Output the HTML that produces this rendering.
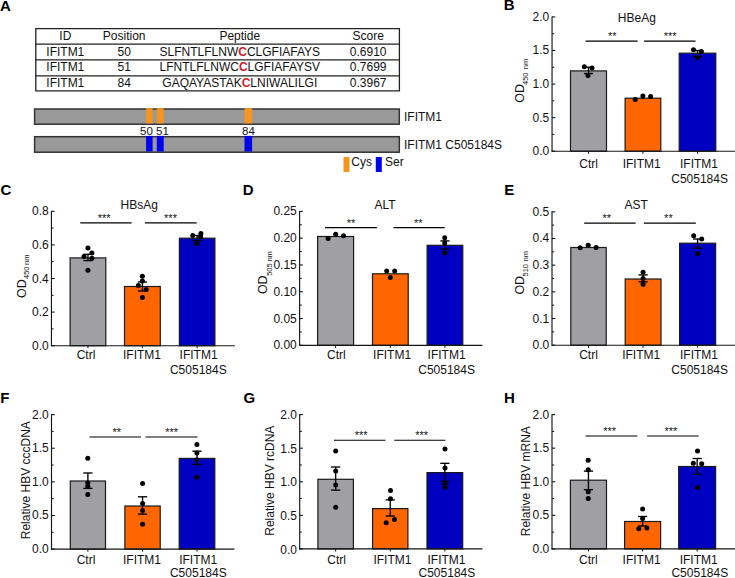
<!DOCTYPE html>
<html><head><meta charset="utf-8"><style>
html,body{margin:0;padding:0;background:#fff;width:735px;height:578px;overflow:hidden}
svg{display:block}
text{font-family:"Liberation Sans", sans-serif;stroke-width:0px}
</style></head><body>
<svg width="735" height="578" viewBox="0 0 735 578">
<rect width="735" height="578" fill="#fff"/>
<text x="0.00" y="10.60" font-size="15" text-anchor="start" font-weight="bold" fill="#000" stroke="#000" >A</text>
<text x="503.80" y="10.40" font-size="15" text-anchor="start" font-weight="bold" fill="#000" stroke="#000" >B</text>
<text x="0.50" y="194.60" font-size="15" text-anchor="start" font-weight="bold" fill="#000" stroke="#000" >C</text>
<text x="242.80" y="194.60" font-size="15" text-anchor="start" font-weight="bold" fill="#000" stroke="#000" >D</text>
<text x="504.20" y="194.60" font-size="15" text-anchor="start" font-weight="bold" fill="#000" stroke="#000" >E</text>
<text x="0.20" y="402.70" font-size="15" text-anchor="start" font-weight="bold" fill="#000" stroke="#000" >F</text>
<text x="243.40" y="402.70" font-size="15" text-anchor="start" font-weight="bold" fill="#000" stroke="#000" >G</text>
<text x="503.90" y="402.70" font-size="15" text-anchor="start" font-weight="bold" fill="#000" stroke="#000" >H</text>
<line x1="35.80" y1="28.70" x2="35.80" y2="90.80" stroke="#222" stroke-width="1.3"/>
<line x1="399.40" y1="28.70" x2="399.40" y2="90.80" stroke="#222" stroke-width="1.3"/>
<line x1="35.15" y1="28.70" x2="400.05" y2="28.70" stroke="#222" stroke-width="1.3"/>
<line x1="35.15" y1="44.20" x2="400.05" y2="44.20" stroke="#222" stroke-width="1.3"/>
<line x1="35.15" y1="59.90" x2="400.05" y2="59.90" stroke="#222" stroke-width="1.3"/>
<line x1="35.15" y1="75.80" x2="400.05" y2="75.80" stroke="#222" stroke-width="1.3"/>
<line x1="35.15" y1="90.80" x2="400.05" y2="90.80" stroke="#222" stroke-width="1.3"/>
<text x="65.30" y="40.10" font-size="12" text-anchor="middle" font-weight="normal" fill="#111" stroke="#111" >ID</text>
<text x="124.20" y="40.10" font-size="12" text-anchor="middle" font-weight="normal" fill="#111" stroke="#111" >Position</text>
<text x="239.80" y="40.10" font-size="12" text-anchor="middle" font-weight="normal" fill="#111" stroke="#111" >Peptide</text>
<text x="368.20" y="40.10" font-size="12" text-anchor="middle" font-weight="normal" fill="#111" stroke="#111" >Score</text>
<text x="65.30" y="55.70" font-size="12" text-anchor="middle" font-weight="normal" fill="#111" stroke="#111" >IFITM1</text>
<text x="124.20" y="55.70" font-size="12" text-anchor="middle" font-weight="normal" fill="#111" stroke="#111" >50</text>
<text x="368.20" y="55.70" font-size="12" text-anchor="middle" font-weight="normal" fill="#111" stroke="#111" >0.6910</text>
<text x="239.80" y="55.70" font-size="12" text-anchor="middle" fill="#111" stroke="#111">SLFNTLFLNW<tspan fill="#d0202a" stroke="#d0202a" font-weight="bold">C</tspan>CLGFIAFAYS</text>
<text x="65.30" y="71.40" font-size="12" text-anchor="middle" font-weight="normal" fill="#111" stroke="#111" >IFITM1</text>
<text x="124.20" y="71.40" font-size="12" text-anchor="middle" font-weight="normal" fill="#111" stroke="#111" >51</text>
<text x="368.20" y="71.40" font-size="12" text-anchor="middle" font-weight="normal" fill="#111" stroke="#111" >0.7699</text>
<text x="239.80" y="71.40" font-size="12" text-anchor="middle" fill="#111" stroke="#111">LFNTLFLNWC<tspan fill="#d0202a" stroke="#d0202a" font-weight="bold">C</tspan>LGFIAFAYSV</text>
<text x="65.30" y="87.10" font-size="12" text-anchor="middle" font-weight="normal" fill="#111" stroke="#111" >IFITM1</text>
<text x="124.20" y="87.10" font-size="12" text-anchor="middle" font-weight="normal" fill="#111" stroke="#111" >84</text>
<text x="368.20" y="87.10" font-size="12" text-anchor="middle" font-weight="normal" fill="#111" stroke="#111" >0.3967</text>
<text x="239.80" y="87.10" font-size="12" text-anchor="middle" fill="#111" stroke="#111">GAQAYASTAK<tspan fill="#d0202a" stroke="#d0202a" font-weight="bold">C</tspan>LNIWALILGI</text>
<rect x="34.60" y="109.00" width="364.70" height="15.20" fill="#999999" stroke="#333" stroke-width="1.5"/>
<rect x="34.60" y="136.70" width="364.70" height="15.50" fill="#999999" stroke="#333" stroke-width="1.5"/>
<rect x="146.1" y="108.2" width="6.50" height="15.2" fill="#f7941d"/>
<rect x="146.1" y="135.9" width="6.50" height="15.6" fill="#0000ee"/>
<rect x="156.8" y="108.2" width="6.90" height="15.2" fill="#f7941d"/>
<rect x="156.8" y="135.9" width="6.90" height="15.6" fill="#0000ee"/>
<rect x="244.5" y="108.2" width="7.60" height="15.2" fill="#f7941d"/>
<rect x="244.5" y="135.9" width="7.60" height="15.6" fill="#0000ee"/>
<text x="146.50" y="134.50" font-size="11.5" text-anchor="middle" font-weight="normal" fill="#111" stroke="#111" >50</text>
<text x="162.40" y="134.50" font-size="11.5" text-anchor="middle" font-weight="normal" fill="#111" stroke="#111" >51</text>
<text x="248.40" y="134.50" font-size="11.5" text-anchor="middle" font-weight="normal" fill="#111" stroke="#111" >84</text>
<text x="404.00" y="121.30" font-size="12" text-anchor="start" font-weight="normal" fill="#111" stroke="#111" >IFITM1</text>
<text x="404.00" y="149.00" font-size="12" text-anchor="start" font-weight="normal" fill="#111" stroke="#111" >IFITM1 C505184S</text>
<rect x="343.5" y="157" width="6" height="15" fill="#f7941d"/>
<text x="351.30" y="166.30" font-size="12" text-anchor="start" font-weight="normal" fill="#111" stroke="#111" >Cys</text>
<rect x="375.8" y="157" width="6" height="15" fill="#0000ee"/>
<text x="385.00" y="166.30" font-size="12" text-anchor="start" font-weight="normal" fill="#111" stroke="#111" >Ser</text>
<rect x="570.50" y="70.90" width="36.00" height="80.30" fill="#a0a0a4" stroke="#1a1a1a" stroke-width="1.2"/>
<rect x="625.10" y="98.20" width="35.70" height="53.00" fill="#ff6600" stroke="#1a1a1a" stroke-width="1.2"/>
<rect x="679.20" y="53.20" width="36.60" height="98.00" fill="#0000c0" stroke="#1a1a1a" stroke-width="1.2"/>
<line x1="588.50" y1="67.20" x2="588.50" y2="73.50" stroke="#000" stroke-width="1.35"/>
<line x1="583.90" y1="67.20" x2="593.10" y2="67.20" stroke="#000" stroke-width="1.35"/>
<line x1="583.90" y1="73.50" x2="593.10" y2="73.50" stroke="#000" stroke-width="1.35"/>
<line x1="697.50" y1="50.50" x2="697.50" y2="56.50" stroke="#000" stroke-width="1.35"/>
<line x1="692.90" y1="50.50" x2="702.10" y2="50.50" stroke="#000" stroke-width="1.35"/>
<line x1="692.90" y1="56.50" x2="702.10" y2="56.50" stroke="#000" stroke-width="1.35"/>
<circle cx="584.30" cy="66.70" r="2.5" fill="#000"/>
<circle cx="592.00" cy="68.10" r="2.5" fill="#000"/>
<circle cx="588.00" cy="75.40" r="2.5" fill="#000"/>
<circle cx="635.20" cy="99.60" r="2.5" fill="#000"/>
<circle cx="642.90" cy="96.10" r="2.5" fill="#000"/>
<circle cx="650.60" cy="96.50" r="2.5" fill="#000"/>
<circle cx="693.50" cy="49.80" r="2.5" fill="#000"/>
<circle cx="701.40" cy="51.60" r="2.5" fill="#000"/>
<circle cx="697.30" cy="57.40" r="2.5" fill="#000"/>
<line x1="552.05" y1="16.40" x2="552.05" y2="151.70" stroke="#151515" stroke-width="1.15"/>
<line x1="551.55" y1="151.20" x2="735.00" y2="151.20" stroke="#151515" stroke-width="1.15"/>
<line x1="552.05" y1="151.20" x2="555.25" y2="151.20" stroke="#151515" stroke-width="1.1"/>
<text x="549.25" y="155.20" font-size="12" text-anchor="end" font-weight="normal" fill="#111" stroke="#111" >0.0</text>
<line x1="552.05" y1="134.41" x2="554.25" y2="134.41" stroke="#151515" stroke-width="1.0"/>
<line x1="552.05" y1="117.62" x2="555.25" y2="117.62" stroke="#151515" stroke-width="1.1"/>
<text x="549.25" y="121.62" font-size="12" text-anchor="end" font-weight="normal" fill="#111" stroke="#111" >0.5</text>
<line x1="552.05" y1="100.84" x2="554.25" y2="100.84" stroke="#151515" stroke-width="1.0"/>
<line x1="552.05" y1="84.05" x2="555.25" y2="84.05" stroke="#151515" stroke-width="1.1"/>
<text x="549.25" y="88.05" font-size="12" text-anchor="end" font-weight="normal" fill="#111" stroke="#111" >1.0</text>
<line x1="552.05" y1="67.26" x2="554.25" y2="67.26" stroke="#151515" stroke-width="1.0"/>
<line x1="552.05" y1="50.47" x2="555.25" y2="50.47" stroke="#151515" stroke-width="1.1"/>
<text x="549.25" y="54.47" font-size="12" text-anchor="end" font-weight="normal" fill="#111" stroke="#111" >1.5</text>
<line x1="552.05" y1="33.69" x2="554.25" y2="33.69" stroke="#151515" stroke-width="1.0"/>
<line x1="552.05" y1="16.90" x2="555.25" y2="16.90" stroke="#151515" stroke-width="1.1"/>
<text x="549.25" y="20.90" font-size="12" text-anchor="end" font-weight="normal" fill="#111" stroke="#111" >2.0</text>
<line x1="588.50" y1="151.20" x2="588.50" y2="153.80" stroke="#151515" stroke-width="1.0"/>
<line x1="642.95" y1="151.20" x2="642.95" y2="153.80" stroke="#151515" stroke-width="1.0"/>
<line x1="697.50" y1="151.20" x2="697.50" y2="153.80" stroke="#151515" stroke-width="1.0"/>
<text x="588.60" y="168.10" font-size="12" text-anchor="middle" font-weight="normal" fill="#111" stroke="#111" >Ctrl</text>
<text x="641.70" y="168.10" font-size="12" text-anchor="middle" font-weight="normal" fill="#111" stroke="#111" >IFITM1</text>
<text x="699.00" y="168.10" font-size="12" text-anchor="middle" font-weight="normal" fill="#111" stroke="#111" >IFITM1</text>
<text x="699.60" y="183.10" font-size="12" text-anchor="middle" font-weight="normal" fill="#111" stroke="#111" >C505184S</text>
<line x1="585.50" y1="41.10" x2="637.60" y2="41.10" stroke="#000" stroke-width="1.15"/>
<text x="612.25" y="39.80" font-size="11" text-anchor="middle" font-weight="normal" fill="#111" stroke="#111" >**</text>
<line x1="644.10" y1="41.10" x2="695.50" y2="41.10" stroke="#000" stroke-width="1.15"/>
<text x="670.20" y="39.80" font-size="11" text-anchor="middle" font-weight="normal" fill="#111" stroke="#111" >***</text>
<text x="636.80" y="21.70" font-size="12" text-anchor="middle" font-weight="normal" fill="#111" stroke="#111" >HBeAg</text>
<text transform="translate(524.30,102.80) rotate(-90)" font-size="12.5" text-anchor="start" fill="#111" stroke="#111">OD</text>
<text transform="translate(527.80,85.00) rotate(-90)" font-size="7.5" text-anchor="start" fill="#111" stroke="#111" stroke-width="0.08">450</text>
<text transform="translate(527.80,69.20) rotate(-90)" font-size="7.5" text-anchor="start" fill="#111" stroke="#111" stroke-width="0.08">nm</text>
<rect x="70.10" y="257.90" width="35.70" height="87.80" fill="#a0a0a4" stroke="#1a1a1a" stroke-width="1.2"/>
<rect x="124.50" y="286.50" width="35.80" height="59.20" fill="#ff6600" stroke="#1a1a1a" stroke-width="1.2"/>
<rect x="179.40" y="238.20" width="35.50" height="107.50" fill="#0000c0" stroke="#1a1a1a" stroke-width="1.2"/>
<line x1="87.95" y1="254.30" x2="87.95" y2="260.60" stroke="#000" stroke-width="1.35"/>
<line x1="83.35" y1="254.30" x2="92.55" y2="254.30" stroke="#000" stroke-width="1.35"/>
<line x1="83.35" y1="260.60" x2="92.55" y2="260.60" stroke="#000" stroke-width="1.35"/>
<line x1="142.40" y1="282.00" x2="142.40" y2="291.00" stroke="#000" stroke-width="1.35"/>
<line x1="137.80" y1="282.00" x2="147.00" y2="282.00" stroke="#000" stroke-width="1.35"/>
<line x1="137.80" y1="291.00" x2="147.00" y2="291.00" stroke="#000" stroke-width="1.35"/>
<line x1="197.15" y1="235.50" x2="197.15" y2="240.50" stroke="#000" stroke-width="1.35"/>
<line x1="192.55" y1="235.50" x2="201.75" y2="235.50" stroke="#000" stroke-width="1.35"/>
<line x1="192.55" y1="240.50" x2="201.75" y2="240.50" stroke="#000" stroke-width="1.35"/>
<circle cx="87.90" cy="248.10" r="2.5" fill="#000"/>
<circle cx="91.90" cy="252.90" r="2.5" fill="#000"/>
<circle cx="84.00" cy="256.60" r="2.5" fill="#000"/>
<circle cx="91.90" cy="258.30" r="2.5" fill="#000"/>
<circle cx="87.90" cy="270.20" r="2.5" fill="#000"/>
<circle cx="142.40" cy="276.20" r="2.5" fill="#000"/>
<circle cx="142.40" cy="280.90" r="2.5" fill="#000"/>
<circle cx="138.40" cy="285.60" r="2.5" fill="#000"/>
<circle cx="146.20" cy="289.40" r="2.5" fill="#000"/>
<circle cx="142.40" cy="297.40" r="2.5" fill="#000"/>
<circle cx="192.80" cy="235.60" r="2.5" fill="#000"/>
<circle cx="200.90" cy="233.50" r="2.5" fill="#000"/>
<circle cx="200.60" cy="236.80" r="2.5" fill="#000"/>
<circle cx="196.80" cy="243.40" r="2.5" fill="#000"/>
<line x1="51.45" y1="210.80" x2="51.45" y2="346.20" stroke="#151515" stroke-width="1.15"/>
<line x1="50.95" y1="345.70" x2="234.90" y2="345.70" stroke="#151515" stroke-width="1.15"/>
<line x1="51.45" y1="345.70" x2="54.65" y2="345.70" stroke="#151515" stroke-width="1.1"/>
<text x="48.65" y="349.70" font-size="12" text-anchor="end" font-weight="normal" fill="#111" stroke="#111" >0.0</text>
<line x1="51.45" y1="328.90" x2="53.65" y2="328.90" stroke="#151515" stroke-width="1.0"/>
<line x1="51.45" y1="312.10" x2="54.65" y2="312.10" stroke="#151515" stroke-width="1.1"/>
<text x="48.65" y="316.10" font-size="12" text-anchor="end" font-weight="normal" fill="#111" stroke="#111" >0.2</text>
<line x1="51.45" y1="295.30" x2="53.65" y2="295.30" stroke="#151515" stroke-width="1.0"/>
<line x1="51.45" y1="278.50" x2="54.65" y2="278.50" stroke="#151515" stroke-width="1.1"/>
<text x="48.65" y="282.50" font-size="12" text-anchor="end" font-weight="normal" fill="#111" stroke="#111" >0.4</text>
<line x1="51.45" y1="261.70" x2="53.65" y2="261.70" stroke="#151515" stroke-width="1.0"/>
<line x1="51.45" y1="244.90" x2="54.65" y2="244.90" stroke="#151515" stroke-width="1.1"/>
<text x="48.65" y="248.90" font-size="12" text-anchor="end" font-weight="normal" fill="#111" stroke="#111" >0.6</text>
<line x1="51.45" y1="228.10" x2="53.65" y2="228.10" stroke="#151515" stroke-width="1.0"/>
<line x1="51.45" y1="211.30" x2="54.65" y2="211.30" stroke="#151515" stroke-width="1.1"/>
<text x="48.65" y="215.30" font-size="12" text-anchor="end" font-weight="normal" fill="#111" stroke="#111" >0.8</text>
<line x1="87.95" y1="345.70" x2="87.95" y2="348.30" stroke="#151515" stroke-width="1.0"/>
<line x1="142.40" y1="345.70" x2="142.40" y2="348.30" stroke="#151515" stroke-width="1.0"/>
<line x1="197.15" y1="345.70" x2="197.15" y2="348.30" stroke="#151515" stroke-width="1.0"/>
<text x="86.00" y="359.20" font-size="12" text-anchor="middle" font-weight="normal" fill="#111" stroke="#111" >Ctrl</text>
<text x="142.00" y="359.20" font-size="12" text-anchor="middle" font-weight="normal" fill="#111" stroke="#111" >IFITM1</text>
<text x="198.60" y="359.20" font-size="12" text-anchor="middle" font-weight="normal" fill="#111" stroke="#111" >IFITM1</text>
<text x="198.30" y="373.70" font-size="12" text-anchor="middle" font-weight="normal" fill="#111" stroke="#111" >C505184S</text>
<line x1="80.30" y1="222.80" x2="131.60" y2="222.80" stroke="#000" stroke-width="1.15"/>
<text x="104.20" y="221.80" font-size="11" text-anchor="middle" font-weight="normal" fill="#111" stroke="#111" >***</text>
<line x1="144.90" y1="222.80" x2="196.70" y2="222.80" stroke="#000" stroke-width="1.15"/>
<text x="170.50" y="221.80" font-size="11" text-anchor="middle" font-weight="normal" fill="#111" stroke="#111" >***</text>
<text x="139.20" y="208.80" font-size="12" text-anchor="middle" font-weight="normal" fill="#111" stroke="#111" >HBsAg</text>
<text transform="translate(26.00,298.00) rotate(-90)" font-size="12.5" text-anchor="start" fill="#111" stroke="#111">OD</text>
<text transform="translate(29.00,279.00) rotate(-90)" font-size="7.5" text-anchor="start" fill="#111" stroke="#111" stroke-width="0.08">450</text>
<text transform="translate(29.00,264.90) rotate(-90)" font-size="7.5" text-anchor="start" fill="#111" stroke="#111" stroke-width="0.08">nm</text>
<rect x="317.60" y="236.50" width="36.00" height="108.80" fill="#a0a0a4" stroke="#1a1a1a" stroke-width="1.2"/>
<rect x="372.50" y="273.80" width="35.70" height="71.50" fill="#ff6600" stroke="#1a1a1a" stroke-width="1.2"/>
<rect x="427.10" y="245.30" width="35.70" height="100.00" fill="#0000c0" stroke="#1a1a1a" stroke-width="1.2"/>
<line x1="444.95" y1="240.90" x2="444.95" y2="249.20" stroke="#000" stroke-width="1.35"/>
<line x1="440.35" y1="240.90" x2="449.55" y2="240.90" stroke="#000" stroke-width="1.35"/>
<line x1="440.35" y1="249.20" x2="449.55" y2="249.20" stroke="#000" stroke-width="1.35"/>
<circle cx="328.10" cy="238.60" r="2.5" fill="#000"/>
<circle cx="335.70" cy="234.30" r="2.5" fill="#000"/>
<circle cx="343.50" cy="235.80" r="2.5" fill="#000"/>
<circle cx="386.70" cy="271.10" r="2.5" fill="#000"/>
<circle cx="394.70" cy="271.10" r="2.5" fill="#000"/>
<circle cx="390.30" cy="277.40" r="2.5" fill="#000"/>
<circle cx="444.70" cy="237.70" r="2.5" fill="#000"/>
<circle cx="444.70" cy="242.90" r="2.5" fill="#000"/>
<circle cx="444.70" cy="252.90" r="2.5" fill="#000"/>
<line x1="299.60" y1="210.90" x2="299.60" y2="345.80" stroke="#151515" stroke-width="1.15"/>
<line x1="299.10" y1="345.30" x2="482.40" y2="345.30" stroke="#151515" stroke-width="1.15"/>
<line x1="299.60" y1="345.30" x2="302.80" y2="345.30" stroke="#151515" stroke-width="1.1"/>
<text x="296.80" y="349.30" font-size="12" text-anchor="end" font-weight="normal" fill="#111" stroke="#111" >0.00</text>
<line x1="299.60" y1="331.91" x2="301.80" y2="331.91" stroke="#151515" stroke-width="1.0"/>
<line x1="299.60" y1="318.52" x2="302.80" y2="318.52" stroke="#151515" stroke-width="1.1"/>
<text x="296.80" y="322.52" font-size="12" text-anchor="end" font-weight="normal" fill="#111" stroke="#111" >0.05</text>
<line x1="299.60" y1="305.13" x2="301.80" y2="305.13" stroke="#151515" stroke-width="1.0"/>
<line x1="299.60" y1="291.74" x2="302.80" y2="291.74" stroke="#151515" stroke-width="1.1"/>
<text x="296.80" y="295.74" font-size="12" text-anchor="end" font-weight="normal" fill="#111" stroke="#111" >0.10</text>
<line x1="299.60" y1="278.35" x2="301.80" y2="278.35" stroke="#151515" stroke-width="1.0"/>
<line x1="299.60" y1="264.96" x2="302.80" y2="264.96" stroke="#151515" stroke-width="1.1"/>
<text x="296.80" y="268.96" font-size="12" text-anchor="end" font-weight="normal" fill="#111" stroke="#111" >0.15</text>
<line x1="299.60" y1="251.57" x2="301.80" y2="251.57" stroke="#151515" stroke-width="1.0"/>
<line x1="299.60" y1="238.18" x2="302.80" y2="238.18" stroke="#151515" stroke-width="1.1"/>
<text x="296.80" y="242.18" font-size="12" text-anchor="end" font-weight="normal" fill="#111" stroke="#111" >0.20</text>
<line x1="299.60" y1="224.79" x2="301.80" y2="224.79" stroke="#151515" stroke-width="1.0"/>
<line x1="299.60" y1="211.40" x2="302.80" y2="211.40" stroke="#151515" stroke-width="1.1"/>
<text x="296.80" y="215.40" font-size="12" text-anchor="end" font-weight="normal" fill="#111" stroke="#111" >0.25</text>
<line x1="335.60" y1="345.30" x2="335.60" y2="347.90" stroke="#151515" stroke-width="1.0"/>
<line x1="390.35" y1="345.30" x2="390.35" y2="347.90" stroke="#151515" stroke-width="1.0"/>
<line x1="444.95" y1="345.30" x2="444.95" y2="347.90" stroke="#151515" stroke-width="1.0"/>
<text x="336.35" y="359.30" font-size="12" text-anchor="middle" font-weight="normal" fill="#111" stroke="#111" >Ctrl</text>
<text x="392.10" y="359.30" font-size="12" text-anchor="middle" font-weight="normal" fill="#111" stroke="#111" >IFITM1</text>
<text x="446.60" y="359.30" font-size="12" text-anchor="middle" font-weight="normal" fill="#111" stroke="#111" >IFITM1</text>
<text x="446.60" y="373.80" font-size="12" text-anchor="middle" font-weight="normal" fill="#111" stroke="#111" >C505184S</text>
<line x1="325.00" y1="227.60" x2="376.90" y2="227.60" stroke="#000" stroke-width="1.15"/>
<text x="351.00" y="226.60" font-size="11" text-anchor="middle" font-weight="normal" fill="#111" stroke="#111" >**</text>
<line x1="393.50" y1="227.60" x2="444.70" y2="227.60" stroke="#000" stroke-width="1.15"/>
<text x="418.30" y="226.60" font-size="11" text-anchor="middle" font-weight="normal" fill="#111" stroke="#111" >**</text>
<text x="385.00" y="208.80" font-size="12" text-anchor="middle" font-weight="normal" fill="#111" stroke="#111" >ALT</text>
<text transform="translate(266.90,294.10) rotate(-90)" font-size="12.5" text-anchor="start" fill="#111" stroke="#111">OD</text>
<text transform="translate(271.60,275.80) rotate(-90)" font-size="7.5" text-anchor="start" fill="#111" stroke="#111" stroke-width="0.08">505</text>
<text transform="translate(271.60,261.60) rotate(-90)" font-size="7.5" text-anchor="start" fill="#111" stroke="#111" stroke-width="0.08">nm</text>
<rect x="570.80" y="247.50" width="35.40" height="97.70" fill="#a0a0a4" stroke="#1a1a1a" stroke-width="1.2"/>
<rect x="625.20" y="279.00" width="35.80" height="66.20" fill="#ff6600" stroke="#1a1a1a" stroke-width="1.2"/>
<rect x="679.60" y="243.20" width="36.00" height="102.00" fill="#0000c0" stroke="#1a1a1a" stroke-width="1.2"/>
<line x1="643.10" y1="274.90" x2="643.10" y2="281.80" stroke="#000" stroke-width="1.35"/>
<line x1="638.50" y1="274.90" x2="647.70" y2="274.90" stroke="#000" stroke-width="1.35"/>
<line x1="638.50" y1="281.80" x2="647.70" y2="281.80" stroke="#000" stroke-width="1.35"/>
<line x1="697.60" y1="239.00" x2="697.60" y2="248.10" stroke="#000" stroke-width="1.35"/>
<line x1="693.00" y1="239.00" x2="702.20" y2="239.00" stroke="#000" stroke-width="1.35"/>
<line x1="693.00" y1="248.10" x2="702.20" y2="248.10" stroke="#000" stroke-width="1.35"/>
<circle cx="580.20" cy="247.80" r="2.5" fill="#000"/>
<circle cx="588.20" cy="245.30" r="2.5" fill="#000"/>
<circle cx="596.20" cy="247.40" r="2.5" fill="#000"/>
<circle cx="643.10" cy="272.30" r="2.5" fill="#000"/>
<circle cx="643.10" cy="278.60" r="2.5" fill="#000"/>
<circle cx="643.10" cy="284.30" r="2.5" fill="#000"/>
<circle cx="693.70" cy="235.80" r="2.5" fill="#000"/>
<circle cx="701.70" cy="239.00" r="2.5" fill="#000"/>
<circle cx="697.50" cy="253.80" r="2.5" fill="#000"/>
<line x1="552.00" y1="211.30" x2="552.00" y2="345.70" stroke="#151515" stroke-width="1.15"/>
<line x1="551.50" y1="345.20" x2="735.00" y2="345.20" stroke="#151515" stroke-width="1.15"/>
<line x1="552.00" y1="345.20" x2="555.20" y2="345.20" stroke="#151515" stroke-width="1.1"/>
<text x="549.20" y="349.20" font-size="12" text-anchor="end" font-weight="normal" fill="#111" stroke="#111" >0.0</text>
<line x1="552.00" y1="331.86" x2="554.20" y2="331.86" stroke="#151515" stroke-width="1.0"/>
<line x1="552.00" y1="318.52" x2="555.20" y2="318.52" stroke="#151515" stroke-width="1.1"/>
<text x="549.20" y="322.52" font-size="12" text-anchor="end" font-weight="normal" fill="#111" stroke="#111" >0.1</text>
<line x1="552.00" y1="305.18" x2="554.20" y2="305.18" stroke="#151515" stroke-width="1.0"/>
<line x1="552.00" y1="291.84" x2="555.20" y2="291.84" stroke="#151515" stroke-width="1.1"/>
<text x="549.20" y="295.84" font-size="12" text-anchor="end" font-weight="normal" fill="#111" stroke="#111" >0.2</text>
<line x1="552.00" y1="278.50" x2="554.20" y2="278.50" stroke="#151515" stroke-width="1.0"/>
<line x1="552.00" y1="265.16" x2="555.20" y2="265.16" stroke="#151515" stroke-width="1.1"/>
<text x="549.20" y="269.16" font-size="12" text-anchor="end" font-weight="normal" fill="#111" stroke="#111" >0.3</text>
<line x1="552.00" y1="251.82" x2="554.20" y2="251.82" stroke="#151515" stroke-width="1.0"/>
<line x1="552.00" y1="238.48" x2="555.20" y2="238.48" stroke="#151515" stroke-width="1.1"/>
<text x="549.20" y="242.48" font-size="12" text-anchor="end" font-weight="normal" fill="#111" stroke="#111" >0.4</text>
<line x1="552.00" y1="225.14" x2="554.20" y2="225.14" stroke="#151515" stroke-width="1.0"/>
<line x1="552.00" y1="211.80" x2="555.20" y2="211.80" stroke="#151515" stroke-width="1.1"/>
<text x="549.20" y="215.80" font-size="12" text-anchor="end" font-weight="normal" fill="#111" stroke="#111" >0.5</text>
<line x1="588.50" y1="345.20" x2="588.50" y2="347.80" stroke="#151515" stroke-width="1.0"/>
<line x1="643.10" y1="345.20" x2="643.10" y2="347.80" stroke="#151515" stroke-width="1.0"/>
<line x1="697.60" y1="345.20" x2="697.60" y2="347.80" stroke="#151515" stroke-width="1.0"/>
<text x="588.50" y="359.00" font-size="12" text-anchor="middle" font-weight="normal" fill="#111" stroke="#111" >Ctrl</text>
<text x="641.20" y="359.00" font-size="12" text-anchor="middle" font-weight="normal" fill="#111" stroke="#111" >IFITM1</text>
<text x="699.00" y="359.00" font-size="12" text-anchor="middle" font-weight="normal" fill="#111" stroke="#111" >IFITM1</text>
<text x="699.70" y="373.80" font-size="12" text-anchor="middle" font-weight="normal" fill="#111" stroke="#111" >C505184S</text>
<line x1="584.20" y1="223.10" x2="635.60" y2="223.10" stroke="#000" stroke-width="1.15"/>
<text x="606.70" y="222.10" font-size="11" text-anchor="middle" font-weight="normal" fill="#111" stroke="#111" >**</text>
<line x1="643.80" y1="223.10" x2="695.80" y2="223.10" stroke="#000" stroke-width="1.15"/>
<text x="668.40" y="222.10" font-size="11" text-anchor="middle" font-weight="normal" fill="#111" stroke="#111" >**</text>
<text x="636.10" y="208.80" font-size="12" text-anchor="middle" font-weight="normal" fill="#111" stroke="#111" >AST</text>
<text transform="translate(524.00,294.60) rotate(-90)" font-size="12.5" text-anchor="start" fill="#111" stroke="#111">OD</text>
<text transform="translate(528.40,276.50) rotate(-90)" font-size="7.5" text-anchor="start" fill="#111" stroke="#111" stroke-width="0.08">510</text>
<text transform="translate(528.40,261.50) rotate(-90)" font-size="7.5" text-anchor="start" fill="#111" stroke="#111" stroke-width="0.08">nm</text>
<rect x="70.30" y="481.00" width="35.20" height="68.10" fill="#a0a0a4" stroke="#1a1a1a" stroke-width="1.2"/>
<rect x="124.90" y="506.00" width="35.30" height="43.10" fill="#ff6600" stroke="#1a1a1a" stroke-width="1.2"/>
<rect x="179.20" y="458.40" width="35.60" height="90.70" fill="#0000c0" stroke="#1a1a1a" stroke-width="1.2"/>
<line x1="87.90" y1="473.00" x2="87.90" y2="488.40" stroke="#000" stroke-width="1.35"/>
<line x1="83.30" y1="473.00" x2="92.50" y2="473.00" stroke="#000" stroke-width="1.35"/>
<line x1="83.30" y1="488.40" x2="92.50" y2="488.40" stroke="#000" stroke-width="1.35"/>
<line x1="142.55" y1="496.80" x2="142.55" y2="514.10" stroke="#000" stroke-width="1.35"/>
<line x1="137.95" y1="496.80" x2="147.15" y2="496.80" stroke="#000" stroke-width="1.35"/>
<line x1="137.95" y1="514.10" x2="147.15" y2="514.10" stroke="#000" stroke-width="1.35"/>
<line x1="197.00" y1="451.20" x2="197.00" y2="464.50" stroke="#000" stroke-width="1.35"/>
<line x1="192.40" y1="451.20" x2="201.60" y2="451.20" stroke="#000" stroke-width="1.35"/>
<line x1="192.40" y1="464.50" x2="201.60" y2="464.50" stroke="#000" stroke-width="1.35"/>
<circle cx="87.80" cy="458.20" r="2.5" fill="#000"/>
<circle cx="87.80" cy="483.10" r="2.5" fill="#000"/>
<circle cx="87.80" cy="486.30" r="2.5" fill="#000"/>
<circle cx="87.80" cy="494.50" r="2.5" fill="#000"/>
<circle cx="142.60" cy="483.50" r="2.5" fill="#000"/>
<circle cx="142.60" cy="503.60" r="2.5" fill="#000"/>
<circle cx="142.60" cy="510.50" r="2.5" fill="#000"/>
<circle cx="142.60" cy="524.20" r="2.5" fill="#000"/>
<circle cx="196.90" cy="444.50" r="2.5" fill="#000"/>
<circle cx="196.90" cy="452.90" r="2.5" fill="#000"/>
<circle cx="196.90" cy="459.90" r="2.5" fill="#000"/>
<circle cx="196.90" cy="477.20" r="2.5" fill="#000"/>
<line x1="51.50" y1="414.10" x2="51.50" y2="549.60" stroke="#151515" stroke-width="1.15"/>
<line x1="51.00" y1="549.10" x2="234.40" y2="549.10" stroke="#151515" stroke-width="1.15"/>
<line x1="51.50" y1="549.10" x2="54.70" y2="549.10" stroke="#151515" stroke-width="1.1"/>
<text x="48.70" y="553.10" font-size="12" text-anchor="end" font-weight="normal" fill="#111" stroke="#111" >0.0</text>
<line x1="51.50" y1="532.29" x2="53.70" y2="532.29" stroke="#151515" stroke-width="1.0"/>
<line x1="51.50" y1="515.48" x2="54.70" y2="515.48" stroke="#151515" stroke-width="1.1"/>
<text x="48.70" y="519.48" font-size="12" text-anchor="end" font-weight="normal" fill="#111" stroke="#111" >0.5</text>
<line x1="51.50" y1="498.66" x2="53.70" y2="498.66" stroke="#151515" stroke-width="1.0"/>
<line x1="51.50" y1="481.85" x2="54.70" y2="481.85" stroke="#151515" stroke-width="1.1"/>
<text x="48.70" y="485.85" font-size="12" text-anchor="end" font-weight="normal" fill="#111" stroke="#111" >1.0</text>
<line x1="51.50" y1="465.04" x2="53.70" y2="465.04" stroke="#151515" stroke-width="1.0"/>
<line x1="51.50" y1="448.23" x2="54.70" y2="448.23" stroke="#151515" stroke-width="1.1"/>
<text x="48.70" y="452.23" font-size="12" text-anchor="end" font-weight="normal" fill="#111" stroke="#111" >1.5</text>
<line x1="51.50" y1="431.41" x2="53.70" y2="431.41" stroke="#151515" stroke-width="1.0"/>
<line x1="51.50" y1="414.60" x2="54.70" y2="414.60" stroke="#151515" stroke-width="1.1"/>
<text x="48.70" y="418.60" font-size="12" text-anchor="end" font-weight="normal" fill="#111" stroke="#111" >2.0</text>
<line x1="87.90" y1="549.10" x2="87.90" y2="551.70" stroke="#151515" stroke-width="1.0"/>
<line x1="142.55" y1="549.10" x2="142.55" y2="551.70" stroke="#151515" stroke-width="1.0"/>
<line x1="197.00" y1="549.10" x2="197.00" y2="551.70" stroke="#151515" stroke-width="1.0"/>
<text x="86.05" y="564.00" font-size="12" text-anchor="middle" font-weight="normal" fill="#111" stroke="#111" >Ctrl</text>
<text x="142.00" y="564.00" font-size="12" text-anchor="middle" font-weight="normal" fill="#111" stroke="#111" >IFITM1</text>
<text x="198.20" y="564.00" font-size="12" text-anchor="middle" font-weight="normal" fill="#111" stroke="#111" >IFITM1</text>
<text x="198.30" y="577.40" font-size="12" text-anchor="middle" font-weight="normal" fill="#111" stroke="#111" >C505184S</text>
<line x1="89.50" y1="437.00" x2="141.00" y2="437.00" stroke="#000" stroke-width="1.15"/>
<text x="116.85" y="436.00" font-size="11" text-anchor="middle" font-weight="normal" fill="#111" stroke="#111" >**</text>
<line x1="145.60" y1="437.00" x2="197.60" y2="437.00" stroke="#000" stroke-width="1.15"/>
<text x="171.70" y="436.00" font-size="11" text-anchor="middle" font-weight="normal" fill="#111" stroke="#111" >***</text>
<text transform="translate(29.70,480.20) rotate(-90)" font-size="12" text-anchor="middle" fill="#111" stroke="#111">Relative HBV cccDNA</text>
<rect x="317.90" y="479.30" width="35.50" height="69.60" fill="#a0a0a4" stroke="#1a1a1a" stroke-width="1.2"/>
<rect x="372.60" y="508.60" width="35.30" height="40.30" fill="#ff6600" stroke="#1a1a1a" stroke-width="1.2"/>
<rect x="427.00" y="472.60" width="35.70" height="76.30" fill="#0000c0" stroke="#1a1a1a" stroke-width="1.2"/>
<line x1="335.65" y1="467.00" x2="335.65" y2="490.10" stroke="#000" stroke-width="1.35"/>
<line x1="331.05" y1="467.00" x2="340.25" y2="467.00" stroke="#000" stroke-width="1.35"/>
<line x1="331.05" y1="490.10" x2="340.25" y2="490.10" stroke="#000" stroke-width="1.35"/>
<line x1="390.25" y1="499.90" x2="390.25" y2="516.00" stroke="#000" stroke-width="1.35"/>
<line x1="385.65" y1="499.90" x2="394.85" y2="499.90" stroke="#000" stroke-width="1.35"/>
<line x1="385.65" y1="516.00" x2="394.85" y2="516.00" stroke="#000" stroke-width="1.35"/>
<line x1="444.85" y1="463.30" x2="444.85" y2="481.40" stroke="#000" stroke-width="1.35"/>
<line x1="440.25" y1="463.30" x2="449.45" y2="463.30" stroke="#000" stroke-width="1.35"/>
<line x1="440.25" y1="481.40" x2="449.45" y2="481.40" stroke="#000" stroke-width="1.35"/>
<circle cx="335.70" cy="450.90" r="2.5" fill="#000"/>
<circle cx="335.70" cy="470.90" r="2.5" fill="#000"/>
<circle cx="335.70" cy="485.10" r="2.5" fill="#000"/>
<circle cx="335.70" cy="507.30" r="2.5" fill="#000"/>
<circle cx="390.50" cy="490.50" r="2.5" fill="#000"/>
<circle cx="390.50" cy="498.80" r="2.5" fill="#000"/>
<circle cx="386.20" cy="522.70" r="2.5" fill="#000"/>
<circle cx="394.50" cy="519.50" r="2.5" fill="#000"/>
<circle cx="445.00" cy="449.10" r="2.5" fill="#000"/>
<circle cx="445.00" cy="468.10" r="2.5" fill="#000"/>
<circle cx="445.00" cy="482.90" r="2.5" fill="#000"/>
<circle cx="445.00" cy="487.20" r="2.5" fill="#000"/>
<line x1="299.70" y1="414.10" x2="299.70" y2="549.40" stroke="#151515" stroke-width="1.15"/>
<line x1="299.20" y1="548.90" x2="482.40" y2="548.90" stroke="#151515" stroke-width="1.15"/>
<line x1="299.70" y1="548.90" x2="302.90" y2="548.90" stroke="#151515" stroke-width="1.1"/>
<text x="296.90" y="553.50" font-size="12" text-anchor="end" font-weight="normal" fill="#111" stroke="#111" >0.0</text>
<line x1="299.70" y1="532.11" x2="301.90" y2="532.11" stroke="#151515" stroke-width="1.0"/>
<line x1="299.70" y1="515.33" x2="302.90" y2="515.33" stroke="#151515" stroke-width="1.1"/>
<text x="296.90" y="519.93" font-size="12" text-anchor="end" font-weight="normal" fill="#111" stroke="#111" >0.5</text>
<line x1="299.70" y1="498.54" x2="301.90" y2="498.54" stroke="#151515" stroke-width="1.0"/>
<line x1="299.70" y1="481.75" x2="302.90" y2="481.75" stroke="#151515" stroke-width="1.1"/>
<text x="296.90" y="486.35" font-size="12" text-anchor="end" font-weight="normal" fill="#111" stroke="#111" >1.0</text>
<line x1="299.70" y1="464.96" x2="301.90" y2="464.96" stroke="#151515" stroke-width="1.0"/>
<line x1="299.70" y1="448.18" x2="302.90" y2="448.18" stroke="#151515" stroke-width="1.1"/>
<text x="296.90" y="452.78" font-size="12" text-anchor="end" font-weight="normal" fill="#111" stroke="#111" >1.5</text>
<line x1="299.70" y1="431.39" x2="301.90" y2="431.39" stroke="#151515" stroke-width="1.0"/>
<line x1="299.70" y1="414.60" x2="302.90" y2="414.60" stroke="#151515" stroke-width="1.1"/>
<text x="296.90" y="419.20" font-size="12" text-anchor="end" font-weight="normal" fill="#111" stroke="#111" >2.0</text>
<line x1="335.65" y1="548.90" x2="335.65" y2="551.50" stroke="#151515" stroke-width="1.0"/>
<line x1="390.25" y1="548.90" x2="390.25" y2="551.50" stroke="#151515" stroke-width="1.0"/>
<line x1="444.85" y1="548.90" x2="444.85" y2="551.50" stroke="#151515" stroke-width="1.0"/>
<text x="336.70" y="564.00" font-size="12" text-anchor="middle" font-weight="normal" fill="#111" stroke="#111" >Ctrl</text>
<text x="392.40" y="564.00" font-size="12" text-anchor="middle" font-weight="normal" fill="#111" stroke="#111" >IFITM1</text>
<text x="446.50" y="564.00" font-size="12" text-anchor="middle" font-weight="normal" fill="#111" stroke="#111" >IFITM1</text>
<text x="446.90" y="577.40" font-size="12" text-anchor="middle" font-weight="normal" fill="#111" stroke="#111" >C505184S</text>
<line x1="334.00" y1="440.20" x2="385.50" y2="440.20" stroke="#000" stroke-width="1.15"/>
<text x="361.20" y="439.20" font-size="11" text-anchor="middle" font-weight="normal" fill="#111" stroke="#111" >***</text>
<line x1="394.20" y1="440.20" x2="445.40" y2="440.20" stroke="#000" stroke-width="1.15"/>
<text x="421.60" y="439.20" font-size="11" text-anchor="middle" font-weight="normal" fill="#111" stroke="#111" >***</text>
<text transform="translate(273.80,480.70) rotate(-90)" font-size="12" text-anchor="middle" fill="#111" stroke="#111">Relative HBV rcDNA</text>
<rect x="570.40" y="480.20" width="36.10" height="68.70" fill="#a0a0a4" stroke="#1a1a1a" stroke-width="1.2"/>
<rect x="624.60" y="521.50" width="36.00" height="27.40" fill="#ff6600" stroke="#1a1a1a" stroke-width="1.2"/>
<rect x="678.70" y="466.50" width="36.90" height="82.40" fill="#0000c0" stroke="#1a1a1a" stroke-width="1.2"/>
<line x1="588.45" y1="471.10" x2="588.45" y2="489.70" stroke="#000" stroke-width="1.35"/>
<line x1="583.85" y1="471.10" x2="593.05" y2="471.10" stroke="#000" stroke-width="1.35"/>
<line x1="583.85" y1="489.70" x2="593.05" y2="489.70" stroke="#000" stroke-width="1.35"/>
<line x1="642.60" y1="516.50" x2="642.60" y2="526.00" stroke="#000" stroke-width="1.35"/>
<line x1="638.00" y1="516.50" x2="647.20" y2="516.50" stroke="#000" stroke-width="1.35"/>
<line x1="638.00" y1="526.00" x2="647.20" y2="526.00" stroke="#000" stroke-width="1.35"/>
<line x1="697.15" y1="458.50" x2="697.15" y2="474.30" stroke="#000" stroke-width="1.35"/>
<line x1="692.55" y1="458.50" x2="701.75" y2="458.50" stroke="#000" stroke-width="1.35"/>
<line x1="692.55" y1="474.30" x2="701.75" y2="474.30" stroke="#000" stroke-width="1.35"/>
<circle cx="588.20" cy="460.20" r="2.5" fill="#000"/>
<circle cx="588.20" cy="469.70" r="2.5" fill="#000"/>
<circle cx="588.20" cy="491.80" r="2.5" fill="#000"/>
<circle cx="588.20" cy="498.60" r="2.5" fill="#000"/>
<circle cx="642.60" cy="509.10" r="2.5" fill="#000"/>
<circle cx="642.60" cy="518.60" r="2.5" fill="#000"/>
<circle cx="638.80" cy="528.70" r="2.5" fill="#000"/>
<circle cx="646.90" cy="528.10" r="2.5" fill="#000"/>
<circle cx="697.50" cy="451.10" r="2.5" fill="#000"/>
<circle cx="693.30" cy="463.30" r="2.5" fill="#000"/>
<circle cx="701.70" cy="463.80" r="2.5" fill="#000"/>
<circle cx="697.50" cy="487.60" r="2.5" fill="#000"/>
<line x1="552.00" y1="414.10" x2="552.00" y2="549.40" stroke="#151515" stroke-width="1.15"/>
<line x1="551.50" y1="548.90" x2="735.00" y2="548.90" stroke="#151515" stroke-width="1.15"/>
<line x1="552.00" y1="548.90" x2="555.20" y2="548.90" stroke="#151515" stroke-width="1.1"/>
<text x="549.20" y="552.90" font-size="12" text-anchor="end" font-weight="normal" fill="#111" stroke="#111" >0.0</text>
<line x1="552.00" y1="532.11" x2="554.20" y2="532.11" stroke="#151515" stroke-width="1.0"/>
<line x1="552.00" y1="515.33" x2="555.20" y2="515.33" stroke="#151515" stroke-width="1.1"/>
<text x="549.20" y="519.33" font-size="12" text-anchor="end" font-weight="normal" fill="#111" stroke="#111" >0.5</text>
<line x1="552.00" y1="498.54" x2="554.20" y2="498.54" stroke="#151515" stroke-width="1.0"/>
<line x1="552.00" y1="481.75" x2="555.20" y2="481.75" stroke="#151515" stroke-width="1.1"/>
<text x="549.20" y="485.75" font-size="12" text-anchor="end" font-weight="normal" fill="#111" stroke="#111" >1.0</text>
<line x1="552.00" y1="464.96" x2="554.20" y2="464.96" stroke="#151515" stroke-width="1.0"/>
<line x1="552.00" y1="448.18" x2="555.20" y2="448.18" stroke="#151515" stroke-width="1.1"/>
<text x="549.20" y="452.18" font-size="12" text-anchor="end" font-weight="normal" fill="#111" stroke="#111" >1.5</text>
<line x1="552.00" y1="431.39" x2="554.20" y2="431.39" stroke="#151515" stroke-width="1.0"/>
<line x1="552.00" y1="414.60" x2="555.20" y2="414.60" stroke="#151515" stroke-width="1.1"/>
<text x="549.20" y="418.60" font-size="12" text-anchor="end" font-weight="normal" fill="#111" stroke="#111" >2.0</text>
<line x1="588.45" y1="548.90" x2="588.45" y2="551.50" stroke="#151515" stroke-width="1.0"/>
<line x1="642.60" y1="548.90" x2="642.60" y2="551.50" stroke="#151515" stroke-width="1.0"/>
<line x1="697.15" y1="548.90" x2="697.15" y2="551.50" stroke="#151515" stroke-width="1.0"/>
<text x="588.40" y="564.00" font-size="12" text-anchor="middle" font-weight="normal" fill="#111" stroke="#111" >Ctrl</text>
<text x="641.60" y="564.00" font-size="12" text-anchor="middle" font-weight="normal" fill="#111" stroke="#111" >IFITM1</text>
<text x="698.70" y="564.00" font-size="12" text-anchor="middle" font-weight="normal" fill="#111" stroke="#111" >IFITM1</text>
<text x="699.80" y="577.40" font-size="12" text-anchor="middle" font-weight="normal" fill="#111" stroke="#111" >C505184S</text>
<line x1="585.50" y1="436.00" x2="637.40" y2="436.00" stroke="#000" stroke-width="1.15"/>
<text x="609.60" y="435.00" font-size="11" text-anchor="middle" font-weight="normal" fill="#111" stroke="#111" >***</text>
<line x1="647.10" y1="436.00" x2="698.70" y2="436.00" stroke="#000" stroke-width="1.15"/>
<text x="670.80" y="435.00" font-size="11" text-anchor="middle" font-weight="normal" fill="#111" stroke="#111" >***</text>
<text transform="translate(529.60,481.20) rotate(-90)" font-size="12" text-anchor="middle" fill="#111" stroke="#111">Relative HBV mRNA</text>
</svg>
</body></html>
